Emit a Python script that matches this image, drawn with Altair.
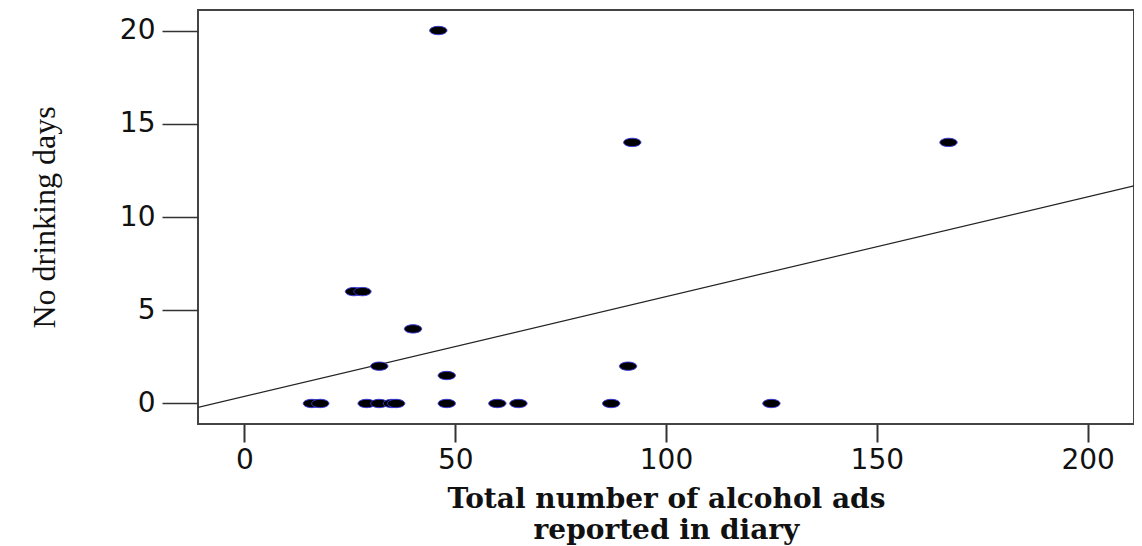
import altair as alt
import pandas as pd

# Scatter data
ads = [46, 92, 167, 26, 28, 40, 32, 91, 48,
       16, 18, 29, 32, 35, 36, 48, 60, 65, 87, 125]
days = [20, 14, 14, 6, 6, 4, 2, 2, 1.5,
        0, 0, 0, 0, 0, 0, 0, 0, 0, 0, 0]

# Fit line end points (at the edges of the frame)
fit_x = [-11, 211]
fit_y = [-0.21, 11.67]

x_ticks = [0, 50, 100, 150, 200]
y_ticks = [0, 5, 10, 15, 20]

pts = pd.DataFrame({"ads": ads, "days": days})
fit = pd.DataFrame({"ads": fit_x, "days": fit_y})

x_scale = alt.Scale(domain=[-11, 211], nice=False, zero=False)
y_scale = alt.Scale(domain=[-1.1, 21.1], nice=False, zero=False)

x_enc = alt.X(
    "ads:Q", scale=x_scale,
    axis=alt.Axis(
        title=["Total number of alcohol ads", "reported in diary"],
        values=x_ticks, grid=False, domain=False,
        tickSize=18, tickWidth=2, tickColor="#333333",
        labelFont="DejaVu Sans", labelFontSize=28, labelColor="#111111",
        labelPadding=4,
        titleFont="DejaVu Serif", titleFontSize=28, titleFontWeight="bold",
        titleColor="#111111", titleBaseline="alphabetic", titleY=83,
        titleLineHeight=31,
    ),
)
y_enc = alt.Y(
    "days:Q", scale=y_scale,
    axis=alt.Axis(
        title="No drinking days",
        values=y_ticks, grid=False, domain=False,
        tickSize=36, tickWidth=1.5, tickColor="#333333",
        labelFont="DejaVu Sans", labelFontSize=28, labelColor="#111111",
        labelPadding=7,
        titleFont="Liberation Serif", titleFontSize=32, titleFontWeight="normal",
        titleColor="#111111", titleBaseline="alphabetic", titleX=-144,
        titleAngle=270,
    ),
)

ellipse = "M-1,0 A1,0.48 0 1,0 1,0 A1,0.48 0 1,0 -1,0 Z"

points = alt.Chart(pts).mark_point(
    shape=ellipse, size=300, filled=True, fill="#000000",
    stroke="#3a3ad8", strokeWidth=1, opacity=1,
).encode(x=x_enc, y=y_enc)

line = alt.Chart(fit).mark_line(color="#222222", strokeWidth=1.2, clip=True).encode(
    x=alt.X("ads:Q", scale=x_scale),
    y=alt.Y("days:Q", scale=y_scale),
)

chart = alt.layer(line, points).properties(
    width=936, height=414,
    autosize=alt.AutoSizeParams(type="none"),
    padding={"left": 190, "top": 2, "right": 0, "bottom": 122},
).configure_view(
    stroke="#444444", strokeWidth=2,
)

chart.save("out.html", embed_options={"renderer": "svg", "actions": False})
